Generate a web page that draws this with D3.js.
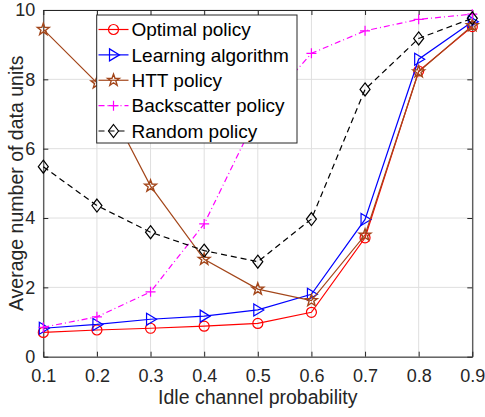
<!DOCTYPE html>
<html>
<head>
<meta charset="utf-8">
<script src="https://cdn.jsdelivr.net/npm/d3@7"></script>
<style>
html,body{margin:0;padding:0;background:#fff;}
svg{display:block;font-family:"Liberation Sans",Arial,Helvetica,sans-serif;}
</style>
</head>
<body>
<svg id="chart" width="485" height="417"></svg>
<script>
const xValues = [0.1, 0.2, 0.3, 0.4, 0.5, 0.6, 0.7, 0.8, 0.9];
const optimal = [0.70, 0.77, 0.82, 0.88, 0.96, 1.28, 3.43, 8.24, 9.52];
const learning = [0.82, 0.93, 1.08, 1.17, 1.35, 1.80, 3.96, 8.58, 9.66];
const htt = [9.44, 7.90, 4.92, 2.81, 1.95, 1.62, 3.51, 8.22, 9.55];
const backscatter = [0.85, 1.15, 1.87, 3.83, 7.00, 8.75, 9.40, 9.73, 9.88];
const randomPolicy = [5.48, 4.36, 3.59, 3.06, 2.74, 3.97, 7.71, 9.18, 9.76];
const xTicks = [0.1, 0.2, 0.3, 0.4, 0.5, 0.6, 0.7, 0.8, 0.9];
const yTicks = [0, 2, 4, 6, 8, 10];
const seriesNames = ["Optimal policy", "Learning algorithm", "HTT policy", "Backscatter policy", "Random policy"];

const series = [
  {name: seriesNames[0], values: optimal, color: "#FF0000", dash: null, marker: "circle"},
  {name: seriesNames[1], values: learning, color: "#0000FF", dash: null, marker: "triangle"},
  {name: seriesNames[2], values: htt, color: "#A3461A", dash: null, marker: "star"},
  {name: seriesNames[3], values: backscatter, color: "#FF00FF", dash: "6,3,1,3", marker: "plus"},
  {name: seriesNames[4], values: randomPolicy, color: "#000000", dash: "6,4", marker: "diamond"}
];

const L = 43.3, R = 472.3, T = 10, B = 356.7;
const svg = d3.select("#chart");
const x = d3.scaleLinear().domain([0.1, 0.9]).range([L, R]);
const y = d3.scaleLinear().domain([0, 10]).range([B, T]);
const axisColor = "#262626";

// grid
const g = svg.append("g");
g.selectAll(".gx").data(xTicks).enter().append("line")
  .attr("x1", d => x(d)).attr("x2", d => x(d)).attr("y1", T).attr("y2", B)
  .attr("stroke", "#dfdfdf").attr("stroke-width", 1);
g.selectAll(".gy").data(yTicks).enter().append("line")
  .attr("y1", d => y(d)).attr("y2", d => y(d)).attr("x1", L).attr("x2", R)
  .attr("stroke", "#dfdfdf").attr("stroke-width", 1);

// axes
const fmtX = d3.format(".1f");
const xAxis = svg.append("g").attr("transform", `translate(0,${B})`)
  .call(d3.axisBottom(x).tickValues(xTicks).tickFormat(fmtX).tickSizeInner(-5).tickSizeOuter(0).tickPadding(13));
const xAxisTop = svg.append("g").attr("transform", `translate(0,${T})`)
  .call(d3.axisTop(x).tickValues(xTicks).tickFormat("").tickSizeInner(-5).tickSizeOuter(0));
const yAxis = svg.append("g").attr("transform", `translate(${L},0)`)
  .call(d3.axisLeft(y).tickValues(yTicks).tickFormat(d3.format("d")).tickSizeInner(-5).tickSizeOuter(0).tickPadding(8));
const yAxisR = svg.append("g").attr("transform", `translate(${R},0)`)
  .call(d3.axisRight(y).tickValues(yTicks).tickFormat("").tickSizeInner(-5).tickSizeOuter(0));
[xAxis, xAxisTop, yAxis, yAxisR].forEach(a => {
  a.select(".domain").attr("stroke", axisColor).attr("stroke-width", 1);
  a.selectAll(".tick line").attr("stroke", axisColor);
  a.selectAll("text").attr("fill", axisColor).attr("font-size", 18)
    .attr("font-family", "Liberation Sans, Arial, sans-serif");
});

// marker drawing
function drawMarker(sel, type, color) {
  if (type === "circle") {
    sel.append("circle").attr("r", 5).attr("fill", "none").attr("stroke", color).attr("stroke-width", 1.2);
  } else if (type === "triangle") {
    sel.append("path").attr("d", "M-4,-6L6,0L-4,6Z").attr("fill", "none").attr("stroke", color).attr("stroke-width", 1.2);
  } else if (type === "star") {
    const pts = [];
    for (let i = 0; i < 10; i++) {
      const r = i % 2 === 0 ? 6.2 : 2.5;
      const a = -Math.PI / 2 + i * Math.PI / 5;
      pts.push([r * Math.cos(a), r * Math.sin(a)]);
    }
    sel.append("path").attr("d", "M" + pts.map(p => p.join(",")).join("L") + "Z")
      .attr("fill", "none").attr("stroke", color).attr("stroke-width", 1.4);
  } else if (type === "plus") {
    sel.append("path").attr("d", "M-5,0L5,0M0,-5L0,5").attr("stroke", color).attr("stroke-width", 1.2);
  } else if (type === "diamond") {
    sel.append("path").attr("d", "M0,-6.5L5,0L0,6.5L-5,0Z").attr("fill", "none").attr("stroke", color).attr("stroke-width", 1.2);
  }
}

const line = d3.line().x((d, i) => x(xValues[i])).y(d => y(d));
series.forEach(s => {
  const p = svg.append("path").datum(s.values).attr("d", line)
    .attr("fill", "none").attr("stroke", s.color).attr("stroke-width", 1.2);
  if (s.dash) p.attr("stroke-dasharray", s.dash);
  s.values.forEach((v, i) => {
    const m = svg.append("g").attr("transform", `translate(${x(xValues[i])},${y(v)})`);
    drawMarker(m, s.marker, s.color);
  });
});

// labels
svg.append("text").attr("x", (L + R) / 2).attr("y", 404).attr("text-anchor", "middle")
  .attr("font-size", 19.5).attr("fill", axisColor).text("Idle channel probability");
svg.append("text").attr("transform", `translate(23,${(T + B) / 2}) rotate(-90)`)
  .attr("text-anchor", "middle").attr("font-size", 19.5).attr("fill", axisColor)
  .text("Average number of data units");

// legend
const lg = svg.append("g");
lg.append("rect").attr("x", 96.7).attr("y", 15).attr("width", 200.3).attr("height", 128)
  .attr("fill", "#fff").attr("stroke", axisColor).attr("stroke-width", 1);
const rowY = d3.scaleLinear().domain([0, 4]).range([29.5, 131]);
series.forEach((s, i) => {
  const yy = rowY(i);
  const l = lg.append("line").attr("x1", 98.5).attr("x2", 128.5).attr("y1", yy).attr("y2", yy)
    .attr("stroke", s.color).attr("stroke-width", 1.2);
  if (s.dash) l.attr("stroke-dasharray", s.dash);
  const m = lg.append("g").attr("transform", `translate(113.5,${yy})`);
  drawMarker(m, s.marker, s.color);
  lg.append("text").attr("x", 131.5).attr("y", yy).attr("dy", "0.35em")
    .attr("font-size", 19).attr("fill", "#000").text(s.name);
});
</script>
</body>
</html>
